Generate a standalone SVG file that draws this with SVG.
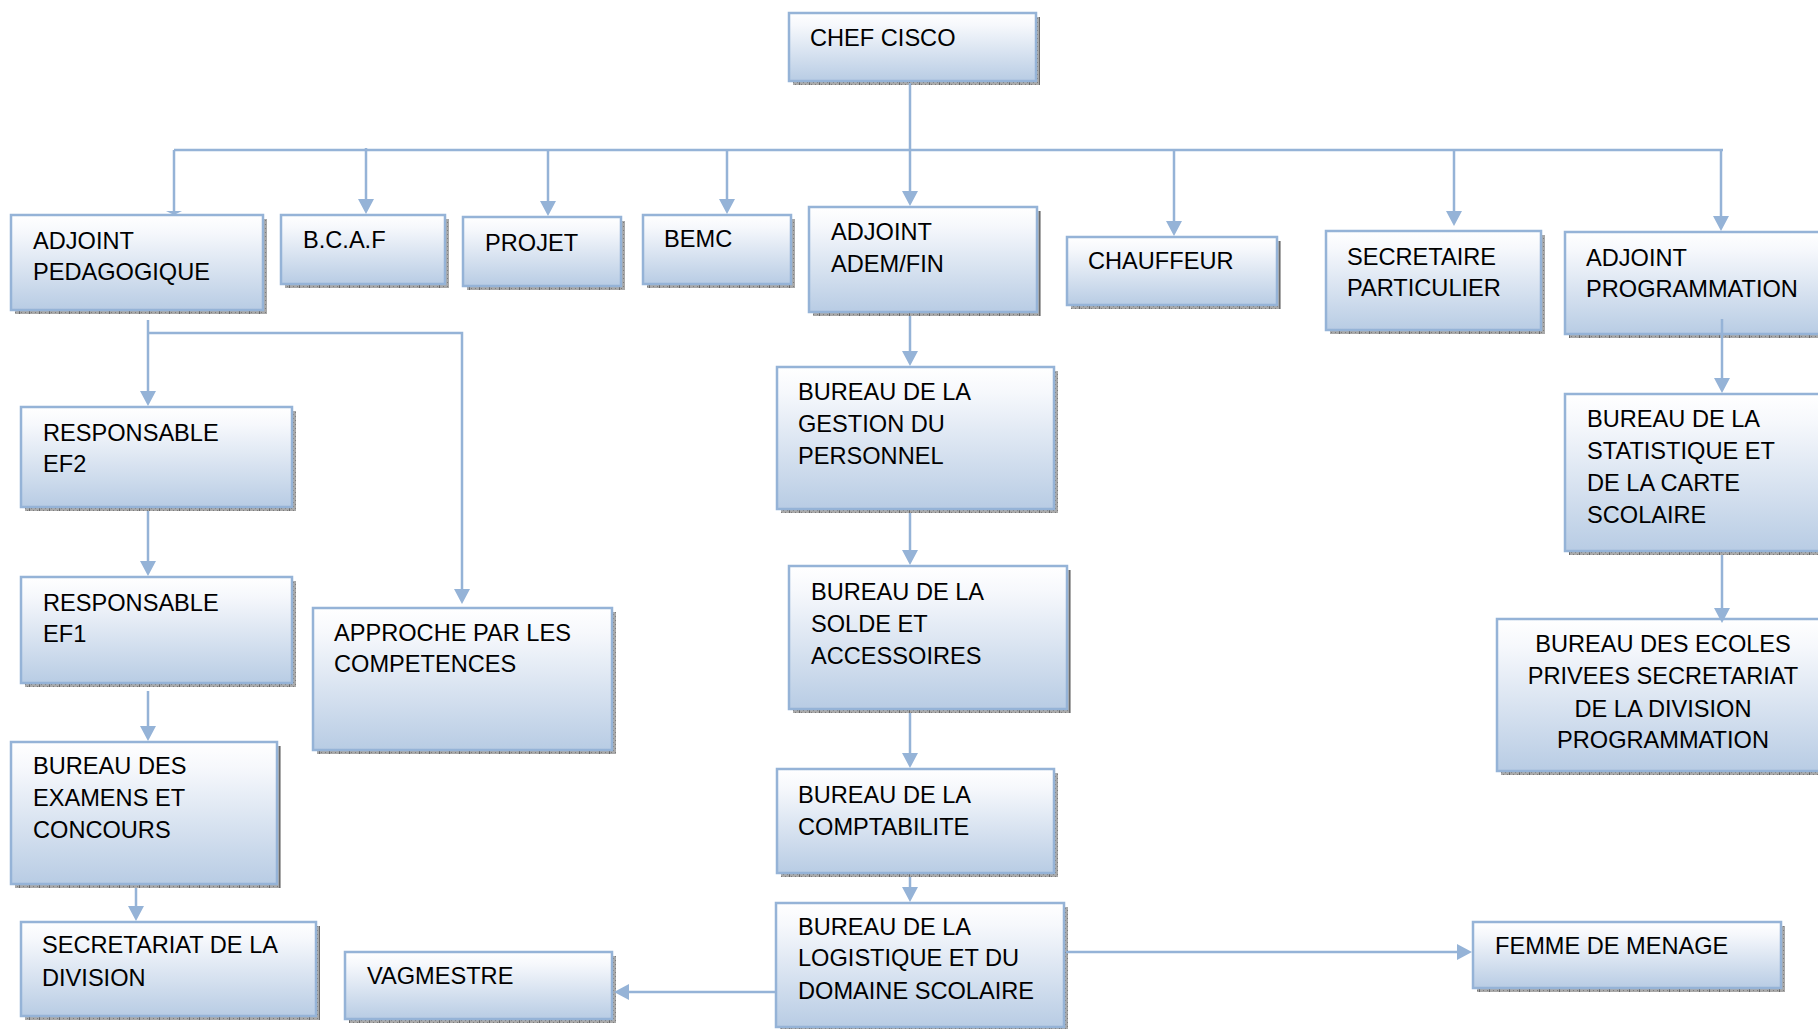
<svg xmlns="http://www.w3.org/2000/svg" width="1818" height="1029" viewBox="0 0 1818 1029">
  <style>
    .box { fill: url(#boxFill); stroke: #95b3d7; stroke-width: 2.5; }
    .shadow { fill: url(#shadowTex); }
    .label { font-family: "Liberation Sans", Arial, sans-serif; font-size: 23.6px; fill: #000; }
    .mid { text-anchor: middle; }
    .link { fill: none; stroke: #95b3d7; stroke-width: 2.5; }
    .arrow { marker-end: url(#head); }
  </style>
  <defs>
    <linearGradient id="boxFill" x1="0" y1="0" x2="0" y2="1">
      <stop offset="0" stop-color="#ffffff"/>
      <stop offset="0.18" stop-color="#f6f8fc"/>
      <stop offset="1" stop-color="#b8cce4"/>
    </linearGradient>
    <pattern id="shadowTex" width="10" height="4" patternUnits="userSpaceOnUse">
      <rect width="10" height="4" fill="#a9a9a9"/>
      <rect x="1" y="0" width="1" height="1" fill="#7c7c7c"/>
      <rect x="3" y="2" width="1" height="1" fill="#7c7c7c"/>
      <rect x="5" y="0" width="1" height="1" fill="#7c7c7c"/>
      <rect x="7" y="2" width="1" height="1" fill="#7c7c7c"/>
      <rect x="9" y="0" width="1" height="4" fill="#6a6a6a"/>
    </pattern>
    <marker id="head" markerUnits="userSpaceOnUse" markerWidth="15" markerHeight="16" refX="9" refY="8" orient="auto">
      <path d="M0,0 L15,8 L0,16 z" fill="#95b3d7"/>
    </marker>
  </defs>

  <g id="chef-cisco">
    <rect class="shadow" x="793" y="17" width="247" height="68"/>
    <rect class="box" x="789" y="13" width="247" height="68"/>
    <text class="label" x="810" y="46">CHEF CISCO</text>
  </g>
  <g id="adjoint-pedagogique">
    <rect class="shadow" x="15" y="219" width="252" height="95"/>
    <rect class="box" x="11" y="215" width="252" height="95"/>
    <text class="label" x="33" y="249">ADJOINT</text>
    <text class="label" x="33" y="280">PEDAGOGIQUE</text>
  </g>
  <g id="bcaf">
    <rect class="shadow" x="285" y="219" width="164" height="69"/>
    <rect class="box" x="281" y="215" width="164" height="69"/>
    <text class="label" x="303" y="248">B.C.A.F</text>
  </g>
  <g id="projet">
    <rect class="shadow" x="467" y="221" width="158" height="69"/>
    <rect class="box" x="463" y="217" width="158" height="69"/>
    <text class="label" x="485" y="251">PROJET</text>
  </g>
  <g id="bemc">
    <rect class="shadow" x="647" y="219" width="148" height="69"/>
    <rect class="box" x="643" y="215" width="148" height="69"/>
    <text class="label" x="664" y="247">BEMC</text>
  </g>
  <g id="adjoint-adem-fin">
    <rect class="shadow" x="813" y="211" width="228" height="105"/>
    <rect class="box" x="809" y="207" width="228" height="105"/>
    <text class="label" x="831" y="240">ADJOINT</text>
    <text class="label" x="831" y="272">ADEM/FIN</text>
  </g>
  <g id="chauffeur">
    <rect class="shadow" x="1071" y="241" width="210" height="68"/>
    <rect class="box" x="1067" y="237" width="210" height="68"/>
    <text class="label" x="1088" y="269">CHAUFFEUR</text>
  </g>
  <g id="secretaire-particulier">
    <rect class="shadow" x="1330" y="235" width="215" height="99"/>
    <rect class="box" x="1326" y="231" width="215" height="99"/>
    <text class="label" x="1347" y="265">SECRETAIRE</text>
    <text class="label" x="1347" y="296">PARTICULIER</text>
  </g>
  <g id="adjoint-programmation">
    <rect class="shadow" x="1569" y="236" width="270" height="102"/>
    <rect class="box" x="1565" y="232" width="270" height="102"/>
    <text class="label" x="1586" y="266">ADJOINT</text>
    <text class="label" x="1586" y="297">PROGRAMMATION</text>
  </g>
  <g id="responsable-ef2">
    <rect class="shadow" x="25" y="411" width="271" height="100"/>
    <rect class="box" x="21" y="407" width="271" height="100"/>
    <text class="label" x="43" y="441">RESPONSABLE</text>
    <text class="label" x="43" y="472">EF2</text>
  </g>
  <g id="responsable-ef1">
    <rect class="shadow" x="25" y="581" width="271" height="106"/>
    <rect class="box" x="21" y="577" width="271" height="106"/>
    <text class="label" x="43" y="611">RESPONSABLE</text>
    <text class="label" x="43" y="642">EF1</text>
  </g>
  <g id="bureau-examens">
    <rect class="shadow" x="15" y="746" width="266" height="142"/>
    <rect class="box" x="11" y="742" width="266" height="142"/>
    <text class="label" x="33" y="774">BUREAU DES</text>
    <text class="label" x="33" y="806">EXAMENS ET</text>
    <text class="label" x="33" y="838">CONCOURS</text>
  </g>
  <g id="secretariat-division">
    <rect class="shadow" x="25" y="926" width="295" height="94"/>
    <rect class="box" x="21" y="922" width="295" height="94"/>
    <text class="label" x="42" y="953">SECRETARIAT DE LA</text>
    <text class="label" x="42" y="986">DIVISION</text>
  </g>
  <g id="approche-competences">
    <rect class="shadow" x="317" y="612" width="299" height="142"/>
    <rect class="box" x="313" y="608" width="299" height="142"/>
    <text class="label" x="334" y="641">APPROCHE PAR LES</text>
    <text class="label" x="334" y="672">COMPETENCES</text>
  </g>
  <g id="vagmestre">
    <rect class="shadow" x="349" y="956" width="267" height="67"/>
    <rect class="box" x="345" y="952" width="267" height="67"/>
    <text class="label" x="367" y="984">VAGMESTRE</text>
  </g>
  <g id="bureau-gestion-personnel">
    <rect class="shadow" x="781" y="371" width="277" height="142"/>
    <rect class="box" x="777" y="367" width="277" height="142"/>
    <text class="label" x="798" y="400">BUREAU DE LA</text>
    <text class="label" x="798" y="432">GESTION DU</text>
    <text class="label" x="798" y="464">PERSONNEL</text>
  </g>
  <g id="bureau-solde">
    <rect class="shadow" x="793" y="570" width="278" height="143"/>
    <rect class="box" x="789" y="566" width="278" height="143"/>
    <text class="label" x="811" y="600">BUREAU DE LA</text>
    <text class="label" x="811" y="632">SOLDE ET</text>
    <text class="label" x="811" y="664">ACCESSOIRES</text>
  </g>
  <g id="bureau-comptabilite">
    <rect class="shadow" x="781" y="773" width="277" height="104"/>
    <rect class="box" x="777" y="769" width="277" height="104"/>
    <text class="label" x="798" y="803">BUREAU DE LA</text>
    <text class="label" x="798" y="835">COMPTABILITE</text>
  </g>
  <g id="bureau-logistique">
    <rect class="shadow" x="780" y="907" width="288" height="124"/>
    <rect class="box" x="776" y="903" width="288" height="124"/>
    <text class="label" x="798" y="935">BUREAU DE LA</text>
    <text class="label" x="798" y="966">LOGISTIQUE ET DU</text>
    <text class="label" x="798" y="999">DOMAINE SCOLAIRE</text>
  </g>
  <g id="femme-de-menage">
    <rect class="shadow" x="1477" y="926" width="308" height="66"/>
    <rect class="box" x="1473" y="922" width="308" height="66"/>
    <text class="label" x="1495" y="954">FEMME DE MENAGE</text>
  </g>
  <g id="bureau-statistique">
    <rect class="shadow" x="1569" y="398" width="270" height="157"/>
    <rect class="box" x="1565" y="394" width="270" height="157"/>
    <text class="label" x="1587" y="427">BUREAU DE LA</text>
    <text class="label" x="1587" y="459">STATISTIQUE ET</text>
    <text class="label" x="1587" y="491">DE LA CARTE</text>
    <text class="label" x="1587" y="523">SCOLAIRE</text>
  </g>
  <g id="bureau-ecoles-privees">
    <rect class="shadow" x="1501" y="623" width="340" height="152"/>
    <rect class="box" x="1497" y="619" width="340" height="152"/>
    <text class="label mid" x="1663" y="652">BUREAU DES ECOLES</text>
    <text class="label mid" x="1663" y="684">PRIVEES SECRETARIAT</text>
    <text class="label mid" x="1663" y="717">DE LA DIVISION</text>
    <text class="label mid" x="1663" y="748">PROGRAMMATION</text>
  </g>

  <!-- connectors, drawn over the boxes so arrowheads sit on the borders -->
  <g id="connectors">
    <!-- chief to main bus and to the ADEM/FIN deputy -->
    <path class="link arrow" d="M910,83 V200"/>
    <path class="link" d="M174,150 H1723"/>
    <path class="link" d="M174,150 V212"/>
    <path d="M166,211 H182 L174,215 z" fill="#95b3d7"/>
    <path class="link arrow" d="M366,148 V208"/>
    <path class="link arrow" d="M548,150 V210"/>
    <path class="link arrow" d="M727,150 V208"/>
    <path class="link arrow" d="M1174,150 V230"/>
    <path class="link arrow" d="M1454,150 V220"/>
    <path class="link arrow" d="M1721,150 V225"/>
    <!-- pedagogy branch -->
    <path class="link arrow" d="M148,320 V400"/>
    <path class="link arrow" d="M148,333 H462 V598"/>
    <path class="link arrow" d="M148,511 V570"/>
    <path class="link arrow" d="M148,691 V735"/>
    <path class="link arrow" d="M136,888 V915"/>
    <!-- administration / finance branch -->
    <path class="link arrow" d="M910,316 V360"/>
    <path class="link arrow" d="M910,513 V559"/>
    <path class="link arrow" d="M910,713 V762"/>
    <path class="link arrow" d="M910,877 V896"/>
    <path class="link arrow" d="M1066,952 H1466"/>
    <path class="link arrow" d="M775,992 H620"/>
    <!-- programming branch -->
    <path class="link arrow" d="M1722,319 V387"/>
    <path class="link arrow" d="M1722,555 V617"/>
  </g>
</svg>
